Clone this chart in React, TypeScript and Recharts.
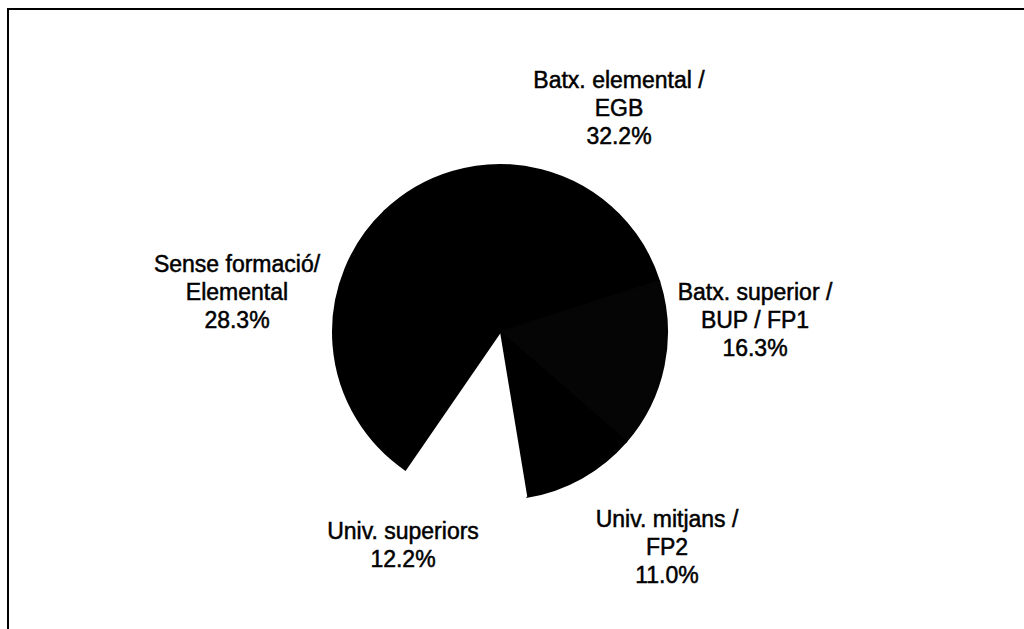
import React from 'react';
import { PieChart, Pie, Cell } from 'recharts';

// clockwise from the top
const CATEGORIES = [
    'Batx. elemental /\nEGB',
    'Batx. superior /\nBUP / FP1',
    'Univ. mitjans /\nFP2',
    'Univ. superiors',
    'Sense formació/\nElemental',
];
const SHARES = [32.2, 16.3, 11.0, 12.2, 28.3];
const SLICE_COLORS = ['#000000', '#050505', '#000000', '#ffffff', '#000000'];

// label block centre, relative to pie centre
const LABEL_OFFSETS: [number, number][] = [
    [119, -224],
    [255, -12],
    [167, 215],
    [-97, 213],
    [-263, -40],
];

const data = CATEGORIES.map((name, i) => ({ name, value: SHARES[i] }));

const LINE_H = 28;

const renderLabel = (props: any) => {
    const { cx, cy, index } = props;
    const lines = [...CATEGORIES[index].split('\n'), SHARES[index].toFixed(1) + '%'];
    const [dx, dy] = LABEL_OFFSETS[index];
    const x = cx + dx;
    const top = cy + dy - ((lines.length - 1) * LINE_H) / 2;
    return (
        <text x={x} y={top} textAnchor="middle" dominantBaseline="central"
            fontFamily="'Liberation Sans', Arial, sans-serif" fontSize={23}
            fill="#000" stroke="#000" strokeWidth={0.5}>
            {lines.map((l, i) => (
                <tspan key={i} x={x} y={top + i * LINE_H}>{l}</tspan>
            ))}
        </text>
    );
};

export default function App() {
    return (
        <div style={{ position: 'absolute', left: 0, top: 0, width: 1024, height: 629, overflow: 'hidden', background: '#fff' }}>
            <div style={{
                position: 'absolute', left: 7, top: 8, width: 1030, height: 640,
                borderLeft: '2px solid #000', borderTop: '2px solid #000',
            }} />
            <div style={{ position: 'absolute', left: 0, top: 0 }}>
                <PieChart width={1024} height={629} margin={{ top: 0, right: 0, bottom: 0, left: 0 }}>
                    <Pie
                        data={data} dataKey="value" nameKey="name"
                        cx={500} cy={332} outerRadius={167}
                        startAngle={133.6} endAngle={-226.4}
                        label={renderLabel} labelLine={false}
                        isAnimationActive={false}
                    >
                        {data.map((d, i) => (
                            <Cell key={d.name} fill={SLICE_COLORS[i]}
                                stroke={SLICE_COLORS[i]} strokeWidth={i === 3 ? 0 : 2} />
                        ))}
                    </Pie>
                </PieChart>
            </div>
        </div>
    );
}
